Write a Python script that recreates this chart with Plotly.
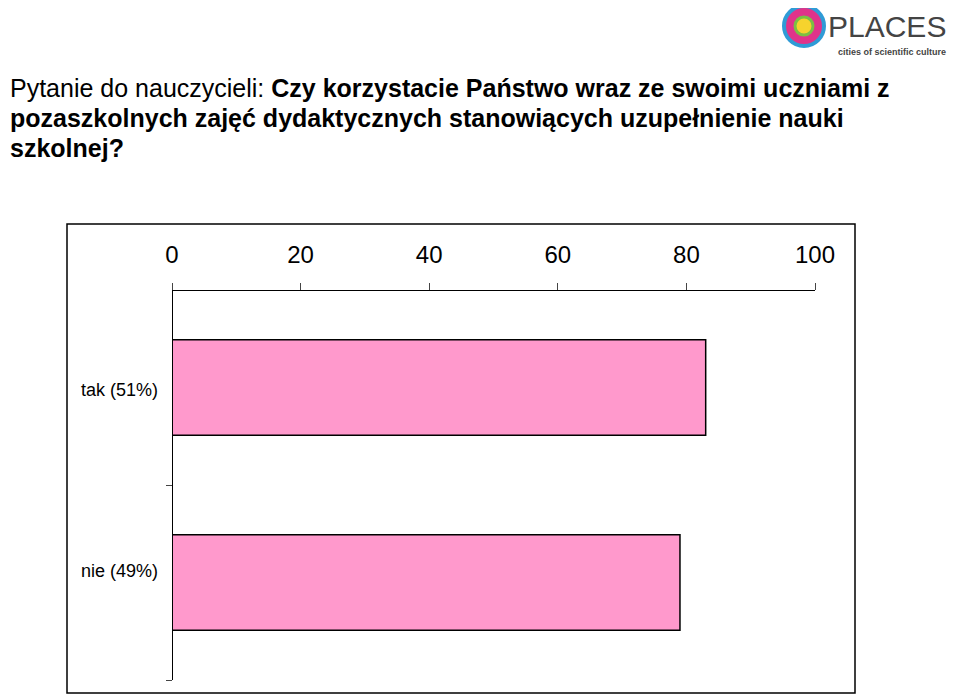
import plotly.graph_objects as go

categories = ["tak (51%)", "nie (49%)"]
values = [83, 79]
ticks = [0, 20, 40, 60, 80, 100]
title_lines = ["Pytanie do nauczycieli: <b>Czy korzystacie Państwo wraz ze swoimi uczniami z</b>",
               "<b>pozaszkolnych zajęć dydaktycznych stanowiących uzupełnienie nauki</b>",
               "<b>szkolnej?</b>"]

OFF = 8
def px(x): return (x - OFF) / 960
def py(y): return 1 - (y - OFF) / 696

fig = go.Figure(go.Bar(y=categories, x=values, orientation="h", width=0.49,
                       marker=dict(color="#FF99CC", line=dict(color="black", width=1.5))))
ann = []
for line, yc in zip(title_lines, [88, 118, 148]):
    ann.append(dict(xref="paper", yref="paper", x=0, y=py(yc), xanchor="left", yanchor="middle",
                    showarrow=False, font=dict(size=25), text=line))
ann += [
    dict(xref="paper", yref="paper", x=px(160), y=py(390), xanchor="right", showarrow=False,
         font=dict(size=18), text=categories[0]),
    dict(xref="paper", yref="paper", x=px(160), y=py(583), xanchor="right", showarrow=False,
         font=dict(size=18), text=categories[1]),
    dict(xref="paper", yref="paper", x=px(948), y=py(27), xanchor="right", yanchor="middle", showarrow=False,
         font=dict(size=30, color="#444"), text="PLACES"),
    dict(xref="paper", yref="paper", x=px(948), y=py(52), xanchor="right", yanchor="middle", showarrow=False,
         font=dict(size=9, color="#444"), text="<b>cities of scientific culture</b>"),
]
fig.update_layout(
    width=960, height=696, margin=dict(l=0, r=0, t=0, b=0),
    paper_bgcolor="white", plot_bgcolor="white", showlegend=False,
    font=dict(family="Liberation Sans, Arial", color="black"),
    xaxis=dict(domain=[px(172), px(815)], range=[0, 100], side="top", tickvals=ticks,
               showgrid=False, zeroline=False, showline=True, linecolor="black", automargin=False,
               ticks="outside", ticklen=7, tickfont=dict(size=24), ticklabelstandoff=10,
               anchor="free", position=py(290)),
    yaxis=dict(domain=[py(680), py(290)], range=[1.5, -0.5], showgrid=False, automargin=False,
               showline=True, linecolor="black", ticks="outside", ticklen=6,
               tickvals=[0.5, 1.5], ticktext=["", ""], anchor="free", position=px(172)),
    shapes=[dict(type="rect", xref="paper", yref="paper", x0=px(67), x1=px(855),
                 y0=py(693), y1=py(224), line=dict(color="black", width=1.5))],
    annotations=ann,
)
fig.add_shape(type="circle", xref="paper", yref="paper", x0=px(784), x1=px(824),
              y0=py(46), y1=py(6), fillcolor="#E0338A", line=dict(color="#2F9BD6", width=4))
fig.add_shape(type="circle", xref="paper", yref="paper", x0=px(795), x1=px(813),
              y0=py(35), y1=py(17), fillcolor="#F6D32D", line=dict(color="#7BC043", width=3))
fig.write_html("out.html")
